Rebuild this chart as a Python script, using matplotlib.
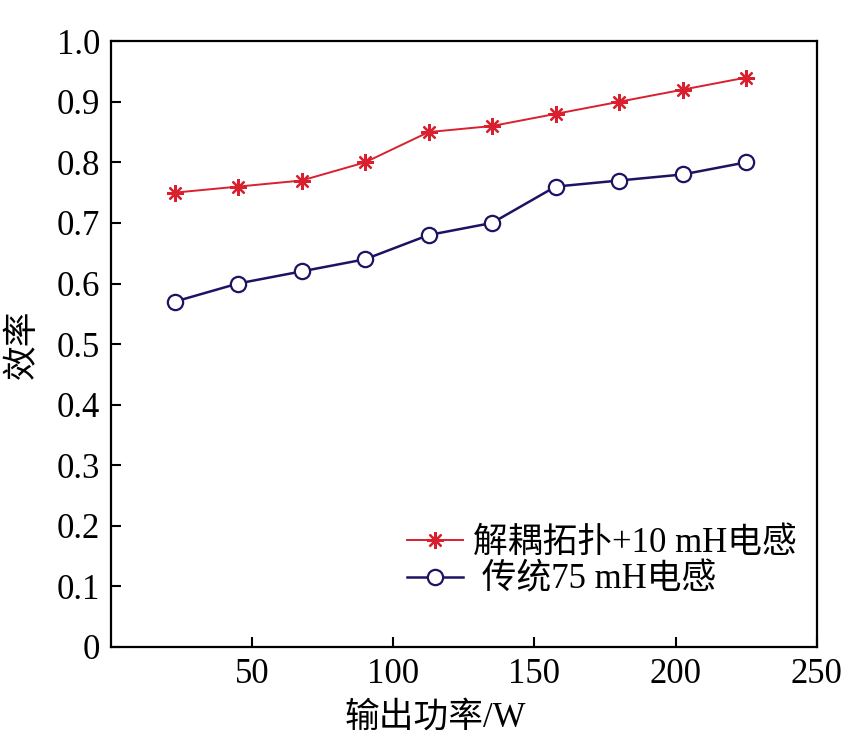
import matplotlib
matplotlib.use("Agg")
import matplotlib.pyplot as plt

# =========================
# DATA
# =========================

power_w = [22.5, 45, 67.5, 90, 112.5, 135, 157.5, 180, 202.5, 225]
eff_decoupled = [0.75, 0.76, 0.77, 0.80, 0.85, 0.86, 0.88, 0.90, 0.92, 0.94]
eff_traditional = [0.57, 0.60, 0.62, 0.64, 0.68, 0.70, 0.76, 0.77, 0.78, 0.80]

label_decoupled = "解耦拓扑+10 mH电感"
label_traditional = " 传统75 mH电感"

x_ticks = [50, 100, 150, 200, 250]
y_ticks = [0, 0.1, 0.2, 0.3, 0.4, 0.5, 0.6, 0.7, 0.8, 0.9, 1.0]
y_tick_labels = ["0", "0.1", "0.2", "0.3", "0.4", "0.5", "0.6", "0.7", "0.8", "0.9", "1.0"]

# =========================
# STYLE
# =========================

FONTS = ["Liberation Serif", "Noto Sans CJK SC", "DejaVu Sans"]
plt.rcParams["font.family"] = FONTS

RED = "#d9202f"
NAVY = "#1c1462"

fig = plt.figure(figsize=(8.48, 7.36), dpi=100)
ax = fig.add_axes([0.131, 0.121, 0.832, 0.823])

# asterisk marker (8 spokes), like the original
ax.plot(power_w, eff_decoupled, color=RED, linewidth=1.4, marker=(8, 2, 0),
        markersize=12, markeredgewidth=1.6, label=label_decoupled)
ax.plot(power_w, eff_traditional, color=NAVY, linewidth=1.8, marker="o",
        markersize=11, markerfacecolor="white", markeredgecolor=NAVY,
        markeredgewidth=1.6, label=label_traditional)

ax.set_xlim(0, 250)
ax.set_ylim(0, 1.0)
ax.set_xticks(x_ticks)
ax.set_yticks(y_ticks)
ax.set_yticklabels(y_tick_labels)

ax.tick_params(direction="in", length=7, width=1.5, labelsize=25, pad=8)
for side in ["top", "right", "bottom", "left"]:
    ax.spines[side].set_linewidth(1.6)

ax.set_xlabel("输出功率/W", fontsize=25)
ax.xaxis.set_label_coords(0.459, -0.09)
ax.set_ylabel("效率", fontsize=25, labelpad=12)

ax.legend(loc="lower left", bbox_to_anchor=(0.4, 0.06), frameon=False,
          fontsize=25, handlelength=1.6, handletextpad=0.3,
          labelspacing=0.1, borderaxespad=0)

fig.savefig("out.png", dpi=100)
